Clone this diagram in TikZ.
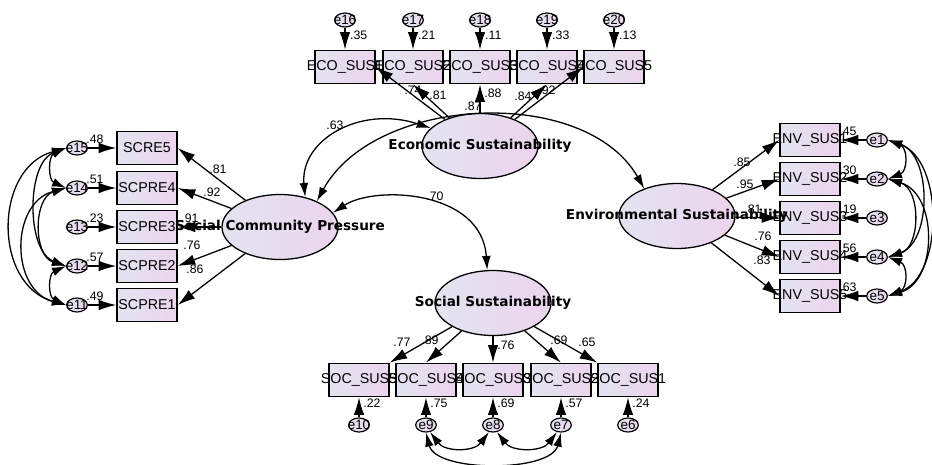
\documentclass[tikz,border=0pt]{standalone}
\usepackage{fontspec}
\setmainfont{Liberation Sans}
\newfontfamily\latentfont{DejaVu Sans}
\usetikzlibrary{positioning}
\usetikzlibrary{shapes.geometric}
\usetikzlibrary{arrows.meta}

\definecolor{shadeleft}{RGB}{226,228,240}
\definecolor{shaderight}{RGB}{236,212,238}

% text that may run past the border of its shape
\newcommand{\ctrtext}[1]{\makebox[0pt]{#1}}

\tikzset{
	obs/.style = {draw, line width = 1.2pt, left color = shadeleft, right color = shaderight, minimum width = 1.8cm, minimum height = 1cm, inner sep = 0pt, font = \fontsize{12.2}{13}\selectfont},
	lat/.style = {ellipse, draw, line width = 1.1pt, left color = shadeleft, right color = shaderight, minimum width = 3.48cm, minimum height = 1.95cm, inner sep = 0pt, font = \latentfont\bfseries\fontsize{11.6}{13}\selectfont},
	err/.style = {ellipse, draw, line width = 1pt, left color = shadeleft, right color = shaderight, minimum width = 0.62cm, minimum height = 0.42cm, inner sep = 0pt, font = \fontsize{11.5}{12}\selectfont},
	est/.style = {inner sep = 0pt, font = \fontsize{10.5}{12}\selectfont},
	arr/.style = {line width = 1.1pt, -{Latex[length = 15pt, width = 9pt]}},
	cov/.style = {line width = 1.1pt, {Latex[length = 12pt, width = 7.5pt]}-{Latex[length = 12pt, width = 7.5pt]}}
}

\begin{document}
\begin{tikzpicture}[x = 0.03cm, y = -0.03cm]
	\useasboundingbox (0, 0) rectangle (932, 464);

	% economic indicators
	\node [obs] (eco1) at (345, 67) {\ctrtext{ECO\_SUS1}};
	\node [obs] (eco2) at (413, 67) {\ctrtext{ECO\_SUS2}};
	\node [obs] (eco3) at (480, 67) {\ctrtext{ECO\_SUS3}};
	\node [obs] (eco4) at (547, 67) {\ctrtext{ECO\_SUS4}};
	\node [obs] (eco5) at (614, 67) {\ctrtext{ECO\_SUS5}};
	\node [err] (e16) at (345, 20) {\ctrtext{e16}};
	\node [err] (e17) at (413, 20) {\ctrtext{e17}};
	\node [err] (e18) at (480, 20) {\ctrtext{e18}};
	\node [err] (e19) at (547, 20) {\ctrtext{e19}};
	\node [err] (e20) at (614, 20) {\ctrtext{e20}};

	% community pressure indicators
	\node [obs] (scre5) at (147, 148) {\ctrtext{SCRE5}};
	\node [obs] (scpre4) at (147, 188) {\ctrtext{SCPRE4}};
	\node [obs] (scpre3) at (147, 227) {\ctrtext{SCPRE3}};
	\node [obs] (scpre2) at (147, 266) {\ctrtext{SCPRE2}};
	\node [obs] (scpre1) at (147, 305) {\ctrtext{SCPRE1}};
	\node [err] (e15) at (77, 148) {\ctrtext{e15}};
	\node [err] (e14) at (77, 188) {\ctrtext{e14}};
	\node [err] (e13) at (77, 227) {\ctrtext{e13}};
	\node [err] (e12) at (77, 266) {\ctrtext{e12}};
	\node [err] (e11) at (77, 305) {\ctrtext{e11}};

	% environmental indicators
	\node [obs] (env1) at (810, 140) {\ctrtext{ENV\_SUS1}};
	\node [obs] (env2) at (810, 179) {\ctrtext{ENV\_SUS2}};
	\node [obs] (env3) at (810, 218) {\ctrtext{ENV\_SUS3}};
	\node [obs] (env4) at (810, 257) {\ctrtext{ENV\_SUS4}};
	\node [obs] (env5) at (810, 296) {\ctrtext{ENV\_SUS5}};
	\node [err] (e1) at (877, 140) {\ctrtext{e1}};
	\node [err] (e2) at (877, 179) {\ctrtext{e2}};
	\node [err] (e3) at (877, 218) {\ctrtext{e3}};
	\node [err] (e4) at (877, 257) {\ctrtext{e4}};
	\node [err] (e5) at (877, 296) {\ctrtext{e5}};

	% social indicators
	\node [obs] (soc5) at (359, 380) {\ctrtext{SOC\_SUS5}};
	\node [obs] (soc4) at (426, 380) {\ctrtext{SOC\_SUS4}};
	\node [obs] (soc3) at (493, 380) {\ctrtext{SOC\_SUS3}};
	\node [obs] (soc2) at (561, 380) {\ctrtext{SOC\_SUS2}};
	\node [obs] (soc1) at (628, 380) {\ctrtext{SOC\_SUS1}};
	\node [err] (e10) at (359, 425) {\ctrtext{e10}};
	\node [err] (e9) at (426, 425) {\ctrtext{e9}};
	\node [err] (e8) at (493, 425) {\ctrtext{e8}};
	\node [err] (e7) at (561, 425) {\ctrtext{e7}};
	\node [err] (e6) at (628, 425) {\ctrtext{e6}};

	% latent variables
	\node [lat] (eco) at (480, 146) {\ctrtext{Economic Sustainability}};
	\node [lat] (scp) at (280, 227) {\ctrtext{Social Community Pressure}};
	\node [lat] (env) at (677, 216) {\ctrtext{Environmental Sustainability}};
	\node [lat] (soc) at (493, 303) {\ctrtext{Social Sustainability}};

	% error terms
	\draw [arr] (e16) -- (eco1);
	\draw [arr] (e17) -- (eco2);
	\draw [arr] (e18) -- (eco3);
	\draw [arr] (e19) -- (eco4);
	\draw [arr] (e20) -- (eco5);
	\draw [arr] (e15) -- (scre5);
	\draw [arr] (e14) -- (scpre4);
	\draw [arr] (e13) -- (scpre3);
	\draw [arr] (e12) -- (scpre2);
	\draw [arr] (e11) -- (scpre1);
	\draw [arr] (e1) -- (env1);
	\draw [arr] (e2) -- (env2);
	\draw [arr] (e3) -- (env3);
	\draw [arr] (e4) -- (env4);
	\draw [arr] (e5) -- (env5);
	\draw [arr] (e10) -- (soc5);
	\draw [arr] (e9) -- (soc4);
	\draw [arr] (e8) -- (soc3);
	\draw [arr] (e7) -- (soc2);
	\draw [arr] (e6) -- (soc1);

	% loadings
	\draw [arr] (eco) -- (eco1.east);
	\draw [arr] (eco) -- (eco2.south);
	\draw [arr] (eco) -- (eco3.south);
	\draw [arr] (eco) -- (eco4.south);
	\draw [arr] (eco) -- (eco5.west);
	\draw [arr] (scp) -- (scre5.east);
	\draw [arr] (scp) -- (scpre4.east);
	\draw [arr] (scp) -- (scpre3.east);
	\draw [arr] (scp) -- (scpre2.east);
	\draw [arr] (scp) -- (scpre1.east);
	\draw [arr] (env) -- (env1.west);
	\draw [arr] (env) -- (env2.west);
	\draw [arr] (env) -- (env3.west);
	\draw [arr] (env) -- (env4.west);
	\draw [arr] (env) -- (env5.west);
	\draw [arr] (soc) -- (soc5.north east);
	\draw [arr] (soc) -- (soc4.north);
	\draw [arr] (soc) -- (soc3.north);
	\draw [arr] (soc) -- (soc2.north);
	\draw [arr] (soc) -- (soc1.north west);

	% covariances between factors
	\draw [cov] (scp.50) .. controls (300, 140) and (360, 105) .. (eco.160);
	\draw [cov] (scp.35) .. controls (375, 95) and (585, 85) .. (env.140);
	\draw [cov] (scp.15) .. controls (375, 185) and (482, 190) .. (soc.100);

	% correlated errors
	\draw [cov] (e15.west) .. controls +(-18, 8) and +(-18, -8) .. (e14.west);
	\draw [cov] (e12.west) .. controls +(-18, 8) and +(-18, -8) .. (e11.west);
	\draw [cov] (e15.west) .. controls +(-73, 20) and +(-73, -20) .. (e11.west);
	\draw [cov] (e14.west) .. controls +(-56, 15) and +(-56, -15) .. (e11.west);
	\draw [cov] (e15.west) .. controls +(-40, 15) and +(-40, -15) .. (e12.west);
	\draw [cov] (e14.west) .. controls +(-33, 10) and +(-33, -10) .. (e12.west);
	\draw [cov] (e1.east) .. controls +(20, 8) and +(20, -8) .. (e2.east);
	\draw [cov] (e4.east) .. controls +(20, 8) and +(20, -8) .. (e5.east);
	\draw [cov] (e1.east) .. controls +(56, 20) and +(56, -20) .. (e5.east);
	\draw [cov] (e1.east) .. controls +(44, 15) and +(44, -15) .. (e4.east);
	\draw [cov] (e2.east) .. controls +(50, 15) and +(50, -15) .. (e5.east);
	\draw [cov] (e2.east) .. controls +(33, 10) and +(33, -10) .. (e4.east);
	\draw [cov] (e9.-60) .. controls +(15, 20) and +(-15, 20) .. (e8.-120);
	\draw [cov] (e8.-60) .. controls +(15, 20) and +(-15, 20) .. (e7.-120);
	\draw [cov] (e9.-90) .. controls +(10, 40) and +(-10, 40) .. (e7.-90);

	% estimates
	\node [est, anchor = west] (r16) at (350, 35) {.35};
	\node [est, anchor = west] (r17) at (418, 35) {.21};
	\node [est, anchor = west] (r18) at (485, 35) {.11};
	\node [est, anchor = west] (r19) at (552, 35) {.33};
	\node [est, anchor = west] (r20) at (619, 35) {.13};
	\node [est] (l1) at (413, 90) {.74};
	\node [est] (l2) at (438, 95) {.81};
	\node [est] (l3) at (473, 106) {.87};
	\node [est] (l4) at (493, 93) {.88};
	\node [est] (l5) at (523, 96) {.84};
	\node [est] (l6) at (547, 90) {.92};
	\node [est] (r15) at (95, 139) {.48};
	\node [est] (r14) at (95, 179) {.51};
	\node [est] (r13) at (95, 218) {.23};
	\node [est] (r12) at (95, 257) {.57};
	\node [est] (r11) at (95, 296) {.49};
	\node [est] (l7) at (218, 169) {.81};
	\node [est] (l8) at (212, 192) {.92};
	\node [est] (l9) at (190, 218) {.91};
	\node [est] (l10) at (192, 245) {.76};
	\node [est] (l11) at (195, 269) {.86};
	\node [est] (r1) at (848, 131) {.45};
	\node [est] (r2) at (848, 170) {.30};
	\node [est] (r3) at (848, 209) {.19};
	\node [est] (r4) at (848, 248) {.56};
	\node [est] (r5) at (848, 287) {.63};
	\node [est] (l12) at (742, 162) {.85};
	\node [est] (l13) at (745, 184) {.95};
	\node [est] (l14) at (753, 209) {.81};
	\node [est] (l15) at (763, 236) {.76};
	\node [est] (l16) at (762, 260) {.83};
	\node [est] (r10) at (372, 403) {.22};
	\node [est] (r9) at (439, 403) {.75};
	\node [est] (r8) at (506, 403) {.69};
	\node [est] (r7) at (574, 403) {.57};
	\node [est] (r6) at (641, 403) {.24};
	\node [est] (l17) at (402, 342) {.77};
	\node [est] (l18) at (430, 340) {.89};
	\node [est] (l19) at (506, 345) {.76};
	\node [est] (l20) at (559, 340) {.69};
	\node [est] (l21) at (587, 342) {.65};
	\node [est] (c1) at (335, 125) {.63};
	\node [est] (c2) at (435, 196) {.70};
\end{tikzpicture}
\end{document}
